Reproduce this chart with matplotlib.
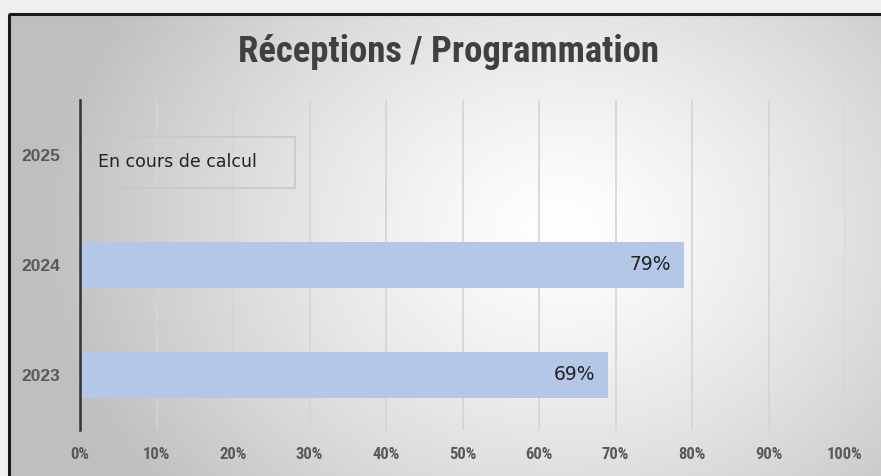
import numpy as np
import matplotlib.pyplot as plt
from matplotlib.patches import Rectangle
from matplotlib import font_manager

years = ['2023', '2024', '2025']
values = [0.69, 0.79, None]
value_labels = ['69%', '79%']
xticks = np.arange(0, 1.01, 0.1)
xtick_labels = [f"{int(round(t * 100))}%" for t in xticks]

W, H = 881, 476
fig = plt.figure(figsize=(W / 100, H / 100), dpi=100)
fig.patch.set_facecolor('#f0f0f0')

# pick a condensed face if one is around
names = {f.name for f in font_manager.fontManager.ttflist}
cond = 'DejaVu Sans'
for n in ['Liberation Sans Narrow', 'DejaVu Sans Condensed', 'Roboto Condensed']:
    if n in names:
        cond = n
        break

# background with a radial gradient inside the frame
bg = fig.add_axes([0, 0, 1, 1], zorder=0)
bg.set_xlim(0, W)
bg.set_ylim(H, 0)
bg.axis('off')
yy, xx = np.mgrid[13:H, 8:W]
r = np.sqrt(((xx - 560) / 520.0) ** 2 + ((yy - 230) / 420.0) ** 2)
shade = 1.0 - 0.25 * np.clip(r, 0, 1) ** 1.3
img = np.dstack([shade, shade, shade])
bg.imshow(img, extent=(8, W, H, 13), aspect='auto', interpolation='bilinear')
bg.add_patch(Rectangle((9, 14), W, H, fill=False, edgecolor='#1a1a1a', linewidth=2.2))

ax = fig.add_axes([80 / W, 1 - 430 / H, (845 - 80) / W, (430 - 100) / H], zorder=1)
ax.patch.set_alpha(0)
ypos = np.arange(len(years))
for y, v, lab in zip(ypos, values, value_labels + [None]):
    if v is None:
        continue
    ax.barh(y, v, height=0.41, color='#b4c7e7', zorder=2)
    ax.text(v - 0.017, y, lab, ha='right', va='center', fontsize=13.5, color='#222222', zorder=3)

ax.set_xlim(0, 1.0)
ax.set_ylim(-0.5, 2.5)
ax.set_xticks(xticks)
ax.set_xticklabels(xtick_labels, fontweight='bold', fontsize=12, color='#595959',
                   family=cond, fontstretch='condensed')
ax.set_yticks(ypos)
ax.set_yticklabels(years, fontweight='bold', fontsize=12.5, color='#595959',
                   family=['Liberation Sans', 'DejaVu Sans'])
ax.tick_params(length=0, pad=12)
ax.tick_params(axis='y', pad=14)
ax.grid(axis='x', color='#d4d4d4', linewidth=1.2, zorder=1)
ax.set_axisbelow(True)
for s in ['top', 'right', 'bottom']:
    ax.spines[s].set_visible(False)
ax.spines['left'].set_color('#333333')
ax.spines['left'].set_linewidth(1.8)
ax.spines['left'].set_zorder(4)

# "en cours" box for 2025
ax.add_patch(Rectangle((0.005, 1.70), 0.276, 0.46, facecolor='none', edgecolor='#c8c8c8',
                       linewidth=1.2, zorder=3))
ax.text(0.0235, 1.94, 'En cours de calcul', ha='left', va='center', fontsize=12.5,
        color='#222222', zorder=3)

fig.text(449 / W, 1 - 52 / H, 'Réceptions / Programmation', ha='center', va='center',
         fontsize=26.5, fontweight='bold', color='#404040', family=cond, fontstretch='condensed')

fig.savefig('out.png', dpi=100, facecolor=fig.get_facecolor())
